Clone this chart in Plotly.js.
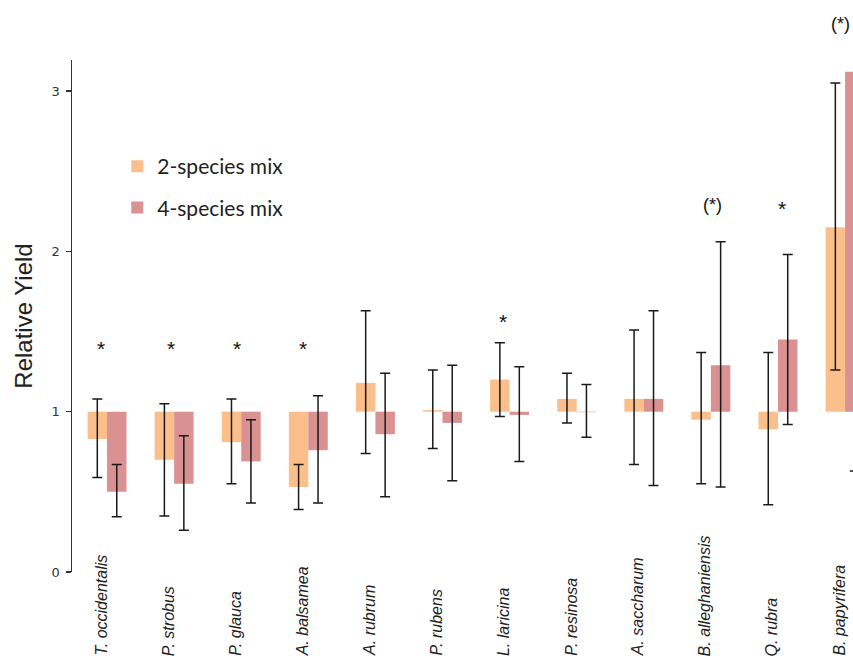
<!DOCTYPE html>
<html>
<head>
<meta charset="utf-8">
<script src="https://cdn.plot.ly/plotly-3.0.1.min.js"></script>
<style>html,body{margin:0;padding:0;background:#fff;}#chart{width:853px;height:659px;}</style>
</head>
<body>
<div id="chart"></div>
<script>
// Species (x categories)
const categories = ["T. occidentalis","P. strobus","P. glauca","A. balsamea","A. rubrum","P. rubens",
  "L. laricina","P. resinosa","A. saccharum","B. alleghaniensis","Q. rubra","B. papyrifera"];

// 2-species mix: relative yield and error-bar ends
const mix2 = [0.83, 0.70, 0.81, 0.53, 1.18, 1.01, 1.20, 1.08, 1.08, 0.95, 0.89, 2.15];
const mix2Upper = [1.08, 1.05, 1.08, 0.67, 1.63, 1.26, 1.43, 1.24, 1.51, 1.37, 1.37, 3.05];
const mix2Lower = [0.59, 0.35, 0.55, 0.39, 0.74, 0.77, 0.97, 0.93, 0.67, 0.55, 0.42, 1.26];

// 4-species mix: relative yield and error-bar ends
const mix4 = [0.50, 0.55, 0.69, 0.76, 0.86, 0.93, 0.98, 0.997, 1.08, 1.29, 1.45, 3.12];
const mix4Upper = [0.67, 0.85, 0.95, 1.10, 1.24, 1.29, 1.28, 1.17, 1.63, 2.06, 1.98, 5.61];
const mix4Lower = [0.345, 0.26, 0.43, 0.43, 0.47, 0.57, 0.69, 0.84, 0.54, 0.53, 0.92, 0.63];

// Significance marks
const sigLabels = ["*","*","*","*","","","*","","","(*)","*","(*)"];
const sigLevel  = [1.42, 1.42, 1.42, 1.42, null, null, 1.59, null, null, 2.29, 2.29, 3.42];

const seriesNames = ["2-species mix", "4-species mix"];
const baseline = 1;
const yMax = 3.194;

// small per-label horizontal nudges (px) for the significance marks
const sigNudge = {0: -6, 1: -3, 2: -4, 3: -5, 6: -7, 9: 2, 10: 4, 11: -5};

const plus = (v, hi) => v.map((x, i) => hi[i] - x);
const minus = (v, lo) => v.map((x, i) => x - lo[i]);

const errStyle = {color: '#1a1a1a', thickness: 1.5, width: 5};

const traces = [
  {
    type: 'bar', name: seriesNames[0], x: categories,
    y: mix2.map(v => v - baseline), base: baseline,
    marker: {color: '#FBBF8C'},
    error_y: Object.assign({type: 'data', symmetric: false,
      array: plus(mix2, mix2Upper), arrayminus: minus(mix2, mix2Lower)}, errStyle),
    legendgroup: 'a', hoverinfo: 'skip'
  },
  {
    type: 'bar', name: seriesNames[1], x: categories,
    y: mix4.map(v => v - baseline), base: baseline,
    marker: {color: '#D99192'},
    error_y: Object.assign({type: 'data', symmetric: false,
      array: plus(mix4, mix4Upper), arrayminus: minus(mix4, mix4Lower)}, errStyle),
    legendgroup: 'b', hoverinfo: 'skip'
  }
];

const annotations = [];
categories.forEach((c, i) => {
  annotations.push({
    x: c, xref: 'x', y: -0.168, yref: 'paper',
    text: c, showarrow: false, textangle: -90,
    xanchor: 'center', yanchor: 'bottom', xshift: -6,
    font: {family: 'Liberation Sans, Arial, sans-serif', size: 16, color: '#222', style: 'italic'}
  });
  if (sigLabels[i]) {
    const v = sigLevel[i];
    const isStar = sigLabels[i] === '*';
    const a = {
      x: c, xref: 'x', text: sigLabels[i], showarrow: false,
      xanchor: 'center', yanchor: 'middle',
      xshift: sigNudge[i] || 0, yshift: isStar ? -4 : 0,
      font: {family: 'Liberation Sans, Arial, sans-serif', size: isStar ? 21 : 18, color: '#111'}
    };
    if (v > yMax) { a.yref = 'paper'; a.y = v / yMax; }
    else { a.yref = 'y'; a.y = v; }
    annotations.push(a);
  }
});

const layout = {
  width: 853, height: 659,
  margin: {l: 72, r: 0, t: 60, b: 87},
  paper_bgcolor: '#fff', plot_bgcolor: '#fff',
  barmode: 'group', bargap: 0.42, bargroupgap: 0,
  showlegend: true,
  legend: {
    x: 0.058, y: 0.832, xanchor: 'left', yanchor: 'top',
    font: {family: 'Lato, Carlito, sans-serif', size: 21, color: '#222'},
    traceorder: 'grouped', tracegroupgap: 11, bgcolor: 'rgba(0,0,0,0)'
  },
  xaxis: {
    type: 'category', range: [-0.522, 11.118],
    showticklabels: false, ticks: '', showline: false, showgrid: false, zeroline: false
  },
  yaxis: {
    range: [0, yMax], tickvals: [0, 1, 2, 3], ticktext: ['0', '1', '2', '3'],
    ticks: 'outside', ticklen: 5, tickwidth: 1.5, tickcolor: '#333',
    showline: true, linecolor: '#333', linewidth: 1.5,
    showgrid: false, zeroline: false,
    tickfont: {family: 'DejaVu Sans, Verdana, sans-serif', size: 13, color: '#333'},
    ticklabelstandoff: 3,
    title: {text: 'Relative Yield', standoff: 12,
      font: {family: 'Liberation Sans, Arial, sans-serif', size: 24, color: '#222'}}
  },
  annotations: annotations
};

Plotly.newPlot('chart', traces, layout, {staticPlot: true});
</script>
</body>
</html>
